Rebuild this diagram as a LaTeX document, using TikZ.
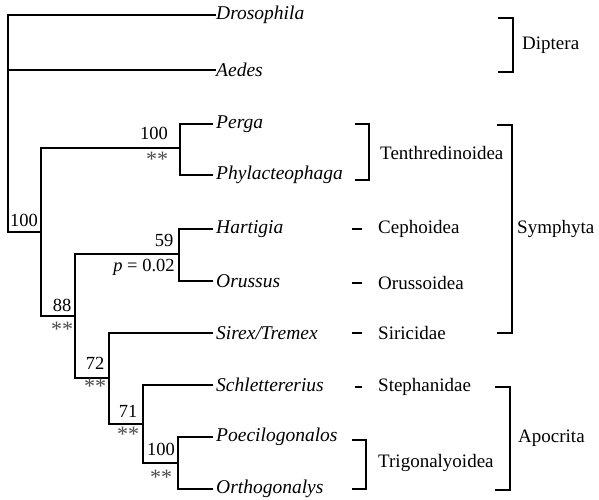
\documentclass[tikz,border=0pt]{standalone}
\usepackage{fontspec}
\setmainfont{Liberation Serif}
\begin{document}
\begin{tikzpicture}[x=1pt,y=-1pt,
  br/.style={line width=2.2pt},
  brk/.style={line width=2.2pt},
  dsh/.style={line width=2.6pt},
  taxon/.style={anchor=west,inner sep=0pt,font=\fontsize{19.5}{22}\selectfont\itshape},
  grp/.style={anchor=west,inner sep=0pt,font=\fontsize{19}{22}\selectfont},
  sup/.style={inner sep=0pt,font=\fontsize{18.5}{21}\selectfont},
  ast/.style={inner sep=0pt,font=\fontsize{22}{24}\selectfont,text=black!70}]
\useasboundingbox (0,0) rectangle (599,500);
% leaves
\node[taxon] (dro) at (216,15) {Drosophila};
\node[taxon] (aed) at (216,70) {Aedes};
\node[taxon] (per) at (216,124) {Perga};
\node[taxon] (phy) at (216,175) {Phylacteophaga};
\node[taxon] (har) at (216,229) {Hartigia};
\node[taxon] (oru) at (216,281) {Orussus};
\node[taxon] (sir) at (216,333) {Sirex/Tremex};
\node[taxon] (sch) at (216,385) {Schlettererius};
\node[taxon] (poe) at (216,437) {Poecilogonalos};
\node[taxon] (ort) at (216,489) {Orthogonalys};
% internal nodes
\coordinate (root) at (8,232);
\coordinate (n1) at (41,232);
\coordinate (ten) at (180,148);
\coordinate (n88) at (75,316);
\coordinate (ho) at (179,254);
\coordinate (n72) at (109,378);
\coordinate (n71) at (143,424);
\coordinate (tri) at (178,463);
% tree
\draw[br] (dro.west) -- ++(-3,0) -| (root) -- (n1);
\draw[br] (aed.west) -- ++(-3,0) -| (root);
\draw[br] (n1) |- (ten);
\draw[br] (n1) |- (n88);
\draw[br] (ten) |- ([xshift=-3pt]per.west);
\draw[br] (ten) |- ([xshift=-3pt]phy.west);
\draw[br] (n88) |- (ho);
\draw[br] (n88) |- (n72);
\draw[br] (ho) |- ([xshift=-3pt]har.west);
\draw[br] (ho) |- ([xshift=-3pt]oru.west);
\draw[br] (n72) |- ([xshift=-3pt]sir.west);
\draw[br] (n72) |- (n71);
\draw[br] (n71) |- ([xshift=-3pt]sch.west);
\draw[br] (n71) |- (tri);
\draw[br] (tri) |- ([xshift=-3pt]poe.west);
\draw[br] (tri) |- ([xshift=-3pt]ort.west);
% support labels
\node[sup] (s1) at (24,220) {100};
\node[sup] (s2) at (154,133) {100};
\node[ast] (a2) at (157,159) {**};
\node[sup] (s3) at (164,240) {59};
\node[sup] (s3p) at (144,267) {\textit{p} = 0.02};
\node[sup] (s4) at (62,305) {88};
\node[ast] (a4) at (62,329) {**};
\node[sup] (s5) at (95,363) {72};
\node[ast] (a5) at (95,386) {**};
\node[sup] (s6) at (128,411) {71};
\node[ast] (a6) at (128,434) {**};
\node[sup] (s7) at (161,449) {100};
\node[ast] (a7) at (161,477) {**};
% group labels
\node[grp] (ceph) at (378,229) {Cephoidea};
\node[grp] (orus) at (378,283) {Orussoidea};
\node[grp] (siri) at (378,333) {Siricidae};
\node[grp] (step) at (378,387) {Stephanidae};
\node[grp] (tent) at (380,153) {Tenthredinoidea};
\node[grp] (trig) at (378,463) {Trigonalyoidea};
\node[grp] (dipt) at (522,45) {Diptera};
\node[grp] (symp) at (517,229) {Symphyta};
\node[grp] (apoc) at (518,438) {Apocrita};
% dashes
\draw[dsh] ([xshift=-26pt]ceph.west) -- ++(10,0);
\draw[dsh] ([xshift=-26pt]orus.west) -- ++(10,0);
\draw[dsh] ([xshift=-26pt]siri.west) -- ++(10,0);
\draw[dsh] ([xshift=-23pt]step.west) -- ++(7,0);
% brackets
\coordinate (tb1) at (355,124); \coordinate (tb2) at (355,180);
\draw[brk] (tb1) -- ++(14,0) |- (tb2);
\coordinate (gb1) at (352,440); \coordinate (gb2) at (352,489);
\draw[brk] (gb1) -- ++(14,0) |- (gb2);
\coordinate (db1) at (498,18); \coordinate (db2) at (498,72);
\draw[brk] (db1) -- ++(15,0) |- (db2);
\coordinate (sb1) at (497,125); \coordinate (sb2) at (497,333);
\draw[brk] (sb1) -- ++(15,0) |- (sb2);
\coordinate (ab1) at (495,387); \coordinate (ab2) at (495,490);
\draw[brk] (ab1) -- ++(15,0) |- (ab2);
\end{tikzpicture}
\end{document}
